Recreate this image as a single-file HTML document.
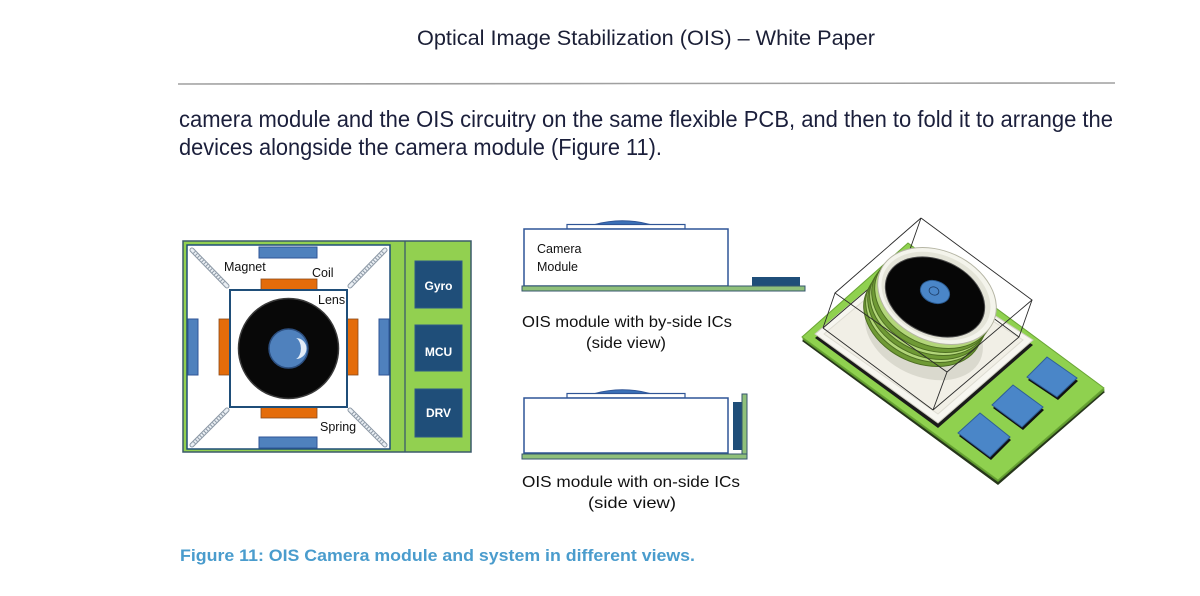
<!DOCTYPE html>
<html>
<head>
<meta charset="utf-8">
<style>
  html,body{margin:0;padding:0;background:#ffffff;}
  svg{display:block;}
</style>
</head>
<body>
<svg width="1200" height="596" viewBox="0 0 1200 596" xmlns="http://www.w3.org/2000/svg">
  <rect x="0" y="0" width="1200" height="596" fill="#ffffff"/>

  <!-- Header -->
  <text x="417" y="45" font-family="Liberation Sans, Arial, sans-serif" font-size="21" fill="#1b1f36" textLength="458" lengthAdjust="spacingAndGlyphs">Optical Image Stabilization (OIS) – White Paper</text>
  <line x1="178" y1="84" x2="1115" y2="83" stroke="#a0a0a0" stroke-width="1.6"/>

  <!-- Body text -->
  <text x="179" y="127" font-family="Liberation Sans, Arial, sans-serif" font-size="23" fill="#1b1f3b" textLength="934" lengthAdjust="spacingAndGlyphs">camera module and the OIS circuitry on the same flexible PCB, and then to fold it to arrange the</text>
  <text x="179" y="155" font-family="Liberation Sans, Arial, sans-serif" font-size="23" fill="#1b1f3b" textLength="483" lengthAdjust="spacingAndGlyphs">devices alongside the camera module (Figure 11).</text>

  <!-- ============ LEFT TOP VIEW DIAGRAM ============ -->
  <rect x="183" y="241" width="288" height="211" fill="#92d050" stroke="#3b5a6b" stroke-width="1.5"/>
  <rect x="187" y="245" width="203" height="204" fill="#ffffff" stroke="#1f4e79" stroke-width="1.5"/>
  <line x1="405" y1="241" x2="405" y2="452" stroke="#3b5a6b" stroke-width="1.3"/>

  <!-- chips -->
  <rect x="415" y="261" width="47" height="47" fill="#1f4e79" stroke="#2d5a88" stroke-width="1"/>
  <rect x="415" y="325" width="47" height="46" fill="#1f4e79" stroke="#2d5a88" stroke-width="1"/>
  <rect x="415" y="389" width="47" height="48" fill="#1f4e79" stroke="#2d5a88" stroke-width="1"/>
  <g font-family="Liberation Sans, Arial, sans-serif" font-size="12" font-weight="bold" fill="#ffffff" text-anchor="middle">
    <text x="438.5" y="290">Gyro</text>
    <text x="438.5" y="356">MCU</text>
    <text x="438.5" y="417">DRV</text>
  </g>

  <!-- springs -->
  <g stroke-linecap="round">
    <g>
      <line x1="192" y1="250" x2="227" y2="286" stroke="#8d99a6" stroke-width="5"/>
      <line x1="192" y1="250" x2="227" y2="286" stroke="#e9eef3" stroke-width="3"/>
      <line x1="194" y1="252" x2="225" y2="284" stroke="#8d99a6" stroke-width="3" stroke-dasharray="1 2" stroke-linecap="butt"/>
    </g>
    <g>
      <line x1="385" y1="250" x2="350" y2="286" stroke="#8d99a6" stroke-width="5"/>
      <line x1="385" y1="250" x2="350" y2="286" stroke="#e9eef3" stroke-width="3"/>
      <line x1="383" y1="252" x2="352" y2="284" stroke="#8d99a6" stroke-width="3" stroke-dasharray="1 2" stroke-linecap="butt"/>
    </g>
    <g>
      <line x1="192" y1="445" x2="227" y2="410" stroke="#8d99a6" stroke-width="5"/>
      <line x1="192" y1="445" x2="227" y2="410" stroke="#e9eef3" stroke-width="3"/>
      <line x1="194" y1="443" x2="225" y2="412" stroke="#8d99a6" stroke-width="3" stroke-dasharray="1 2" stroke-linecap="butt"/>
    </g>
    <g>
      <line x1="385" y1="445" x2="350" y2="410" stroke="#8d99a6" stroke-width="5"/>
      <line x1="385" y1="445" x2="350" y2="410" stroke="#e9eef3" stroke-width="3"/>
      <line x1="383" y1="443" x2="352" y2="412" stroke="#8d99a6" stroke-width="3" stroke-dasharray="1 2" stroke-linecap="butt"/>
    </g>
  </g>

  <!-- magnets -->
  <g fill="#4f81bd" stroke="#2f5597" stroke-width="1">
    <rect x="259" y="247" width="58" height="11"/>
    <rect x="259" y="437" width="58" height="11"/>
    <rect x="188" y="319" width="10" height="56"/>
    <rect x="379" y="319" width="10" height="56"/>
  </g>
  <!-- coils -->
  <g fill="#e46c0a" stroke="#8a4a1a" stroke-width="0.8">
    <rect x="261" y="279" width="56" height="11"/>
    <rect x="261" y="407" width="56" height="11"/>
    <rect x="219" y="319" width="11" height="56"/>
    <rect x="347" y="319" width="11" height="56"/>
  </g>

  <!-- center square + lens -->
  <rect x="230" y="290" width="117" height="117" fill="#ffffff" stroke="#1f4e79" stroke-width="2"/>
  <circle cx="288.5" cy="348.5" r="50" fill="#080808" stroke="#3a3a3a" stroke-width="1.5"/>
  <circle cx="288.5" cy="348.5" r="19.5" fill="#4f81bd" stroke="#2c4f80" stroke-width="1.5"/>
  <path d="M 296 338 A 10.5 10.5 0 0 1 296 359 A 7 11 0 0 0 296 338 Z" fill="#e3ecf7"/>

  <!-- labels -->
  <g font-family="Liberation Sans, Arial, sans-serif" font-size="12.5" fill="#111111">
    <text x="224" y="271">Magnet</text>
    <text x="312" y="277">Coil</text>
    <text x="318" y="304">Lens</text>
    <text x="320" y="431">Spring</text>
  </g>

  <!-- ============ MIDDLE SIDE VIEWS ============ -->
  <!-- top: by-side -->
  <path d="M 595 224.5 Q 622 217 650 224.5 Z" fill="#3a70b8" stroke="#2f5597" stroke-width="1"/>
  <rect x="567" y="224.5" width="118" height="4.5" fill="#ffffff" stroke="#2f5597" stroke-width="1.2"/>
  <rect x="524" y="229" width="204" height="57" fill="#ffffff" stroke="#2f5597" stroke-width="1.5"/>
  <rect x="752" y="277" width="48" height="9" fill="#1f4e79"/>
  <rect x="522" y="286" width="283" height="5" fill="#8fc07a" stroke="#34566e" stroke-width="1"/>
  <g font-family="Liberation Sans, Arial, sans-serif" font-size="12.5" fill="#111111">
    <text x="537" y="253">Camera</text>
    <text x="537" y="271">Module</text>
  </g>
  <g font-family="Liberation Sans, Arial, sans-serif" font-size="16" fill="#111111">
    <text x="522" y="327" textLength="210" lengthAdjust="spacingAndGlyphs">OIS module with by-side ICs</text>
    <text x="586" y="348" textLength="80" lengthAdjust="spacingAndGlyphs">(side view)</text>
  </g>

  <!-- bottom: on-side -->
  <path d="M 595 393.5 Q 622 386 650 393.5 Z" fill="#3a70b8" stroke="#2f5597" stroke-width="1"/>
  <rect x="567" y="393.5" width="118" height="4.5" fill="#ffffff" stroke="#2f5597" stroke-width="1.2"/>
  <rect x="524" y="398" width="204" height="55" fill="#ffffff" stroke="#2f5597" stroke-width="1.5"/>
  <rect x="733" y="402" width="9" height="48" fill="#1f4e79"/>
  <rect x="742" y="394" width="5" height="65" fill="#8fc07a" stroke="#34566e" stroke-width="1"/>
  <rect x="522" y="454" width="225" height="5" fill="#8fc07a" stroke="#34566e" stroke-width="1"/>
  <g font-family="Liberation Sans, Arial, sans-serif" font-size="16" fill="#111111">
    <text x="522" y="487" textLength="218" lengthAdjust="spacingAndGlyphs">OIS module with on-side ICs</text>
    <text x="588" y="508" textLength="88" lengthAdjust="spacingAndGlyphs">(side view)</text>
  </g>

  <!-- ============ RIGHT 3D VIEW ============ -->
  <!-- board shadow/thickness -->
  <polygon points="802,341 908,247 1105,392 998,485" fill="#26361a"/>
  <polygon points="802,339 908,245 1105,390 998,482" fill="#5f9a2e"/>
  <!-- board top -->
  <polygon points="802,337 908,243 1104,388 998,480" fill="#8fd14f" stroke="#6aa535" stroke-width="1"/>

  <!-- slab shadow -->
  <polygon points="815,338 905,262 1033,345 938,428" fill="#1a1a1a"/>
  <!-- slab -->
  <polygon points="815,334 905,258 1033,340 938,423" fill="#f7f6f0" stroke="#cfcdc2" stroke-width="1"/>
  <polygon points="824,334 905,266 1023,340 938,414" fill="#f1efe6" stroke="#dedcd2" stroke-width="1"/>

  <!-- wireframe back edges -->
  <g stroke="#2a2a2a" stroke-width="0.9" fill="none">
    <line x1="921" y1="218" x2="908" y2="255"/>
    <line x1="908" y1="255" x2="823" y2="328"/>
    <line x1="908" y1="255" x2="1019" y2="337"/>
  </g>

  <!-- lens shadow -->
  <ellipse cx="924" cy="334" rx="62" ry="42" transform="rotate(25 924 334)" fill="#d4d3c8" opacity="0.8"/>

  <!-- green threads -->
  <g stroke="#4d6e22" stroke-width="1">
    <ellipse cx="923" cy="318" rx="62" ry="45" transform="rotate(25 923 318)" fill="#6f9a35"/>
    <ellipse cx="925" cy="314" rx="62" ry="45" transform="rotate(25 925 314)" fill="#b3d67a"/>
    <ellipse cx="927" cy="311" rx="62" ry="45" transform="rotate(25 927 311)" fill="#6f9a35"/>
    <ellipse cx="929" cy="307" rx="62" ry="45" transform="rotate(25 929 307)" fill="#b3d67a"/>
    <ellipse cx="931" cy="304" rx="62" ry="45" transform="rotate(25 931 304)" fill="#6f9a35"/>
    <ellipse cx="934" cy="300" rx="62" ry="45" transform="rotate(25 934 300)" fill="#b3d67a"/>
  </g>

  <!-- white ring -->
  <ellipse cx="937" cy="296" rx="62" ry="45" transform="rotate(25 937 296)" fill="#f4f4ec" stroke="#b5b5a4" stroke-width="1"/>
  <ellipse cx="936" cy="296" rx="57" ry="41" transform="rotate(25 936 296)" fill="#e4e4d8"/>
  <!-- black disc -->
  <ellipse cx="935" cy="297" rx="52" ry="37" transform="rotate(25 935 297)" fill="#060606" stroke="#4a4a4a" stroke-width="1"/>
  <!-- blue center -->
  <ellipse cx="935" cy="292" rx="15" ry="11" transform="rotate(20 935 292)" fill="#4a86c8" stroke="#2a5a90" stroke-width="1"/>
  <ellipse cx="934" cy="291" rx="5" ry="4" transform="rotate(20 934 291)" fill="none" stroke="#1f3f6a" stroke-width="0.9"/>

  <!-- chips on board -->
  <g>
    <polygon points="1048,360 1078,381 1058,400 1028,380" fill="#111"/>
    <polygon points="1047,357 1077,378 1057,397 1027,377" fill="#4a86c8" stroke="#2d5e98" stroke-width="1"/>
    <polygon points="1014,388 1044,410 1023,430 993,408" fill="#111"/>
    <polygon points="1013,385 1043,407 1022,427 992,405" fill="#4a86c8" stroke="#2d5e98" stroke-width="1"/>
    <polygon points="981,416 1011,440 991,460 959,436" fill="#111"/>
    <polygon points="980,413 1010,437 990,457 958,433" fill="#4a86c8" stroke="#2d5e98" stroke-width="1"/>
  </g>

  <!-- wireframe front edges -->
  <g stroke="#2a2a2a" stroke-width="0.9" fill="none">
    <polyline points="921,218 835,293 947,372 1032,300 921,218"/>
    <line x1="835" y1="293" x2="823" y2="328"/>
    <line x1="947" y1="372" x2="933" y2="410"/>
    <line x1="1032" y1="300" x2="1019" y2="337"/>
    <line x1="823" y1="328" x2="933" y2="410"/>
    <line x1="933" y1="410" x2="1019" y2="337"/>
  </g>

  <!-- Caption -->
  <text x="180" y="561" font-family="Liberation Sans, Arial, sans-serif" font-size="16.5" font-weight="bold" fill="#4a9ccd" textLength="515" lengthAdjust="spacingAndGlyphs">Figure 11: OIS Camera module and system in different views.</text>
</svg>
</body>
</html>
